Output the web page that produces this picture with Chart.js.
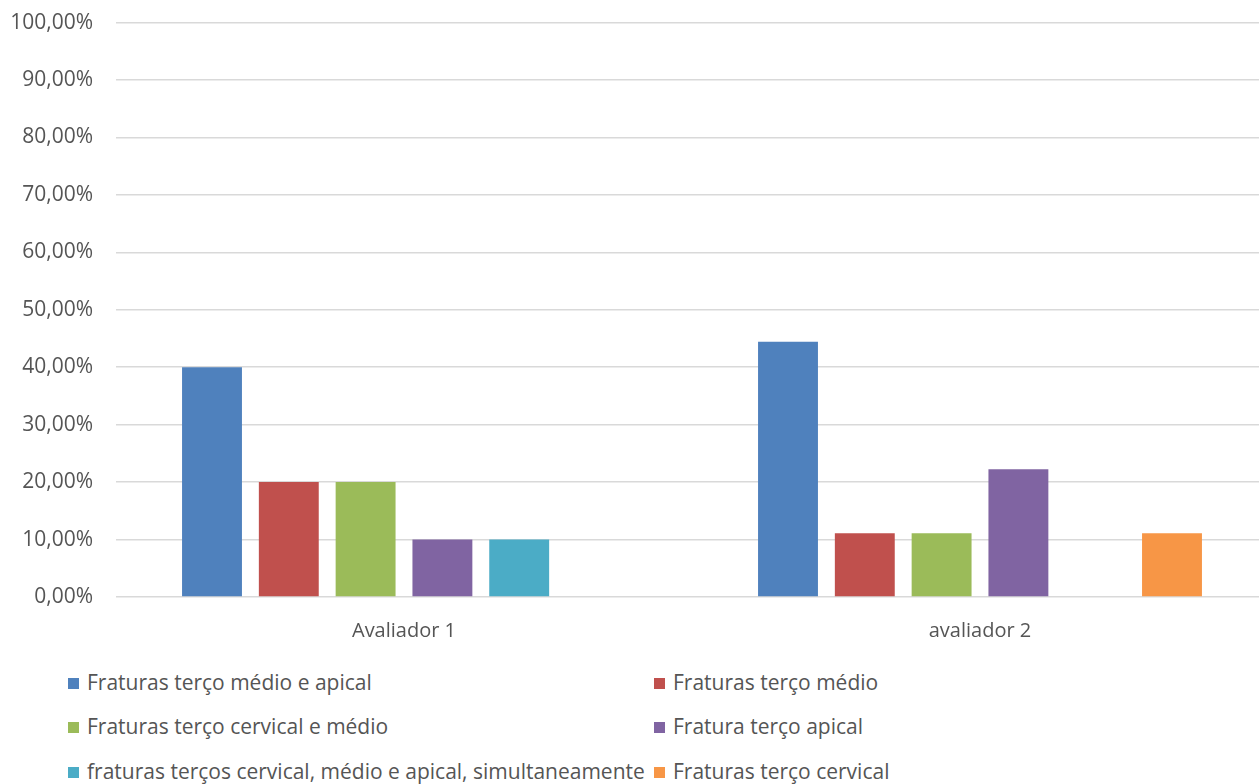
<!DOCTYPE html>
<html>
<head>
<meta charset="utf-8">
<script src="https://cdn.jsdelivr.net/npm/chart.js@4/dist/chart.umd.min.js"></script>
<style>
  html, body { margin: 0; padding: 0; background: #fff; overflow: hidden; }
  #wrap { position: relative; width: 1259px; height: 784px; overflow: hidden; }
  #c { position: absolute; left: 0; top: -13px; }
  .lg { position: absolute; font-family: "Open Sans", sans-serif; font-size: 21px; color: #555; white-space: nowrap; line-height: 26px; }
  .lg i { display: inline-block; width: 11px; height: 11px; margin-right: 8px; vertical-align: 1px; }
</style>
</head>
<body>
<div id="wrap">
  <canvas id="c" width="1268" height="673" style="width:1268px;height:673px"></canvas>
  <div id="legend"></div>
</div>
<script>
const categories = ["Avaliador 1", "avaliador 2"];
const seriesNames = [
  "Fraturas terço médio e apical",
  "Fraturas terço médio",
  "Fraturas terço cervical e médio",
  "Fratura terço apical",
  "fraturas terços cervical, médio e apical, simultaneamente",
  "Fraturas terço cervical"
];
const medioApical   = [40.00, 44.44];
const medio         = [20.00, 11.11];
const cervicalMedio = [20.00, 11.11];
const apical        = [10.00, 22.22];
const simultaneas   = [10.00, 0];
const cervical      = [0, 11.11];
const yTicks = [0, 10, 20, 30, 40, 50, 60, 70, 80, 90, 100];

const colors = ["#4F81BD", "#C0504D", "#9BBB59", "#8064A2", "#4BACC6", "#F79646"];
const seriesValues = [medioApical, medio, cervicalMedio, apical, simultaneas, cervical];

const fmt = v => v.toFixed(2).replace(".", ",") + "%";

new Chart(document.getElementById("c"), {
  type: "bar",
  data: {
    labels: categories,
    datasets: seriesValues.map((vals, i) => ({
      label: seriesNames[i],
      data: vals,
      backgroundColor: colors[i],
      borderWidth: 0,
      barPercentage: 0.78,
      categoryPercentage: 0.80
    }))
  },
  options: {
    responsive: false,
    animation: false,
    layout: { padding: { top: 0, right: 0, left: 0, bottom: 0 } },
    plugins: { legend: { display: false }, tooltip: { enabled: false } },
    scales: {
      x: {
        grid: { display: false },
        border: { display: false },
        ticks: { color: "#555", font: { family: "Open Sans", size: 20 }, padding: 14 },
        afterFit(s) { s.height = 63; }
      },
      y: {
        min: 0, max: 100,
        afterBuildTicks(s) { s.ticks = yTicks.map(v => ({ value: v })); },
        grid: { color: "#d9d9d9", lineWidth: 1.5, drawTicks: false },
        border: { display: false },
        ticks: {
          color: "#555",
          font: { family: "Open Sans", size: 21 },
          padding: 23,
          callback: v => fmt(v)
        },
        afterFit(s) { s.width = 116; }
      }
    }
  }
});

// two-column legend under the plot
const legendPos = [
  [68, 669], [654, 669],
  [68, 713], [654, 713],
  [68, 758], [654, 758]
];
const legendEl = document.getElementById("legend");
seriesNames.forEach((name, i) => {
  const d = document.createElement("div");
  d.className = "lg";
  d.style.left = legendPos[i][0] + "px";
  d.style.top = legendPos[i][1] + "px";
  d.innerHTML = '<i style="background:' + colors[i] + '"></i>' + name;
  legendEl.appendChild(d);
});
</script>
</body>
</html>
